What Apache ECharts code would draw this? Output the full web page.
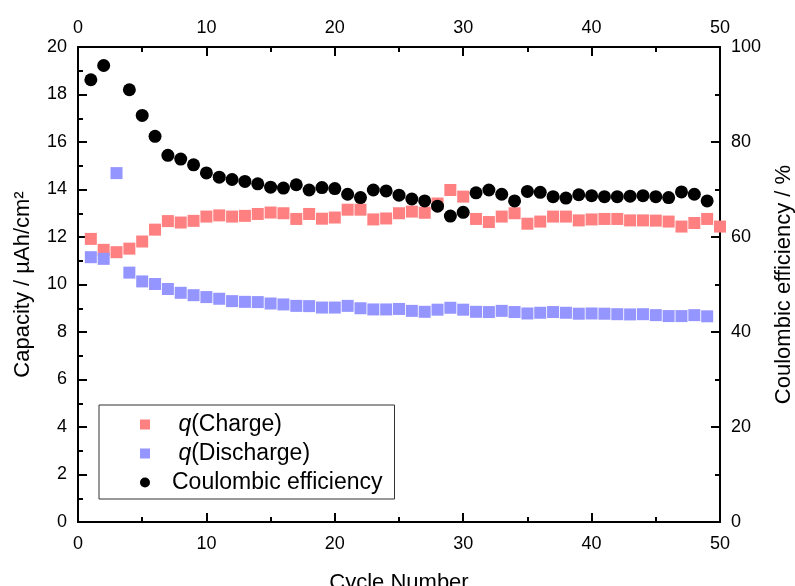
<!DOCTYPE html>
<html>
<head>
<meta charset="utf-8">
<script src="https://cdn.jsdelivr.net/npm/echarts@6/dist/echarts.min.js"></script>
<style>
  html, body { margin: 0; padding: 0; background: #fff; }
  #main { width: 795px; height: 586px; }
</style>
</head>
<body>
<div id="main"></div>
<script>
// cycle numbers
let cycles = [1, 2, 3, 4, 5, 6, 7, 8, 9, 10, 11, 12, 13, 14, 15, 16, 17, 18, 19, 20, 21, 22, 23, 24, 25,
  26, 27, 28, 29, 30, 31, 32, 33, 34, 35, 36, 37, 38, 39, 40, 41, 42, 43, 44, 45, 46, 47, 48, 49, 50];
// q(Charge), µAh/cm²
let charge = [11.92, 11.46, 11.36, 11.51, 11.81, 12.31, 12.67, 12.61, 12.68, 12.86, 12.91, 12.86, 12.89, 12.97, 13.03,
  13.0, 12.76, 12.97, 12.77, 12.82, 13.15, 13.15, 12.74, 12.78, 13.0, 13.07, 13.02, 13.41, 13.98, 13.7,
  12.76, 12.63, 12.86, 13.0, 12.56, 12.65, 12.86, 12.86, 12.7, 12.74, 12.76, 12.76, 12.7, 12.7, 12.69,
  12.65, 12.44, 12.59, 12.76, 12.44];
// q(Discharge), µAh/cm²
let discharge = [11.15, 11.08, 14.69, 10.5, 10.13, 10.02, 9.81, 9.65, 9.55, 9.47, 9.4, 9.3, 9.27, 9.26, 9.2,
  9.16, 9.1, 9.09, 9.03, 9.03, 9.1, 9.0, 8.95, 8.95, 8.97, 8.89, 8.85, 8.94, 9.02, 8.94,
  8.85, 8.84, 8.89, 8.84, 8.78, 8.81, 8.84, 8.81, 8.77, 8.78, 8.77, 8.75, 8.74, 8.75, 8.71,
  8.67, 8.67, 8.71, 8.66, null];
// Coulombic efficiency, %
let efficiency = [93.1, 96.1, null, 91.0, 85.6, 81.2, 77.2, 76.4, 75.2, 73.5, 72.6, 72.1, 71.7, 71.2, 70.5,
  70.3, 71.0, 69.9, 70.4, 70.2, 69.0, 68.3, 69.9, 69.7, 68.8, 68.0, 67.6, 66.5, 64.4, 65.2,
  69.3, 69.9, 69.0, 67.6, 69.6, 69.4, 68.5, 68.2, 68.9, 68.7, 68.5, 68.5, 68.6, 68.7, 68.5,
  68.3, 69.5, 69.0, 67.6, null];

function pairs(vals) {
  return cycles.map((c, i) => [c, vals[i]]).filter(p => p[1] != null);
}

const font = 'Liberation Sans, Arial, sans-serif';
const axisLine = { show: true, onZero: false, lineStyle: { color: '#000', width: 2 } };

function xAxisCfg(pos, withName) {
  return {
    type: 'value', position: pos, min: 0, max: 50, interval: 10,
    axisLine: axisLine,
    axisTick: { show: true, inside: true, length: 9, lineStyle: { color: '#000', width: 2 } },
    minorTick: { show: true, splitNumber: 2, length: 5, lineStyle: { color: '#000', width: 2 } },
    axisLabel: { color: '#000', fontSize: 18, fontFamily: font, margin: withName ? 13 : 10 },
    splitLine: { show: false },
    name: withName ? 'Cycle Number' : '',
    nameLocation: 'middle', nameGap: 50,
    nameTextStyle: { color: '#000', fontSize: 22, fontFamily: font }
  };
}

function yAxisCfg(pos, max, interval, name, gap) {
  return {
    type: 'value', position: pos, min: 0, max: max, interval: interval,
    axisLine: axisLine,
    axisTick: { show: true, inside: true, length: 9, lineStyle: { color: '#000', width: 2 } },
    minorTick: { show: true, splitNumber: 2, length: 5, lineStyle: { color: '#000', width: 2 } },
    axisLabel: { color: '#000', fontSize: 18, fontFamily: font, margin: 11 },
    splitLine: { show: false },
    name: name, nameLocation: 'middle', nameGap: gap,
    nameTextStyle: { color: '#000', fontSize: 22, fontFamily: font }
  };
}

const chart = echarts.init(document.getElementById('main'));
chart.setOption({
  backgroundColor: '#fff',
  animation: false,
  grid: { left: 78, right: 75, top: 47, bottom: 64, containLabel: false, outerBoundsMode: 'none' },
  legend: {
    orient: 'vertical',
    left: 99, top: 405,
    padding: [8, 12, 5, 41],
    itemGap: 6,
    itemWidth: 10, itemHeight: 10,
    borderColor: '#333', borderWidth: 1,
    textStyle: {
      color: '#000', fontSize: 23, fontFamily: font, padding: [0, 0, 0, 17],
      rich: { i: { fontStyle: 'italic', fontSize: 23, fontFamily: font, color: '#000' } }
    },
    formatter: function (name) {
      if (name === 'q(Charge)') return ' {i|q}(Charge)';
      if (name === 'q(Discharge)') return ' {i|q}(Discharge)';
      return name;
    },
    data: [
      { name: 'q(Charge)', icon: 'rect' },
      { name: 'q(Discharge)', icon: 'rect' },
      { name: 'Coulombic efficiency', icon: 'circle' }
    ]
  },
  xAxis: [xAxisCfg('bottom', true), xAxisCfg('top', false)],
  yAxis: [
    yAxisCfg('left', 20, 2, 'Capacity / µAh/cm²', 44),
    yAxisCfg('right', 100, 20, 'Coulombic efficiency / %', 53)
  ],
  series: [
    {
      name: 'q(Charge)', type: 'scatter', xAxisIndex: 0, yAxisIndex: 0,
      symbol: 'rect', symbolSize: 12, clip: false,
      itemStyle: { color: '#ff8080', opacity: 1 },
      data: pairs(charge)
    },
    {
      name: 'q(Discharge)', type: 'scatter', xAxisIndex: 0, yAxisIndex: 0,
      symbol: 'rect', symbolSize: 12,
      itemStyle: { color: '#9595ff', opacity: 1 },
      data: pairs(discharge)
    },
    {
      name: 'Coulombic efficiency', type: 'scatter', xAxisIndex: 0, yAxisIndex: 1,
      symbol: 'circle', symbolSize: 13,
      itemStyle: { color: '#000', opacity: 1 },
      data: pairs(efficiency)
    }
  ]
});
</script>
</body>
</html>
